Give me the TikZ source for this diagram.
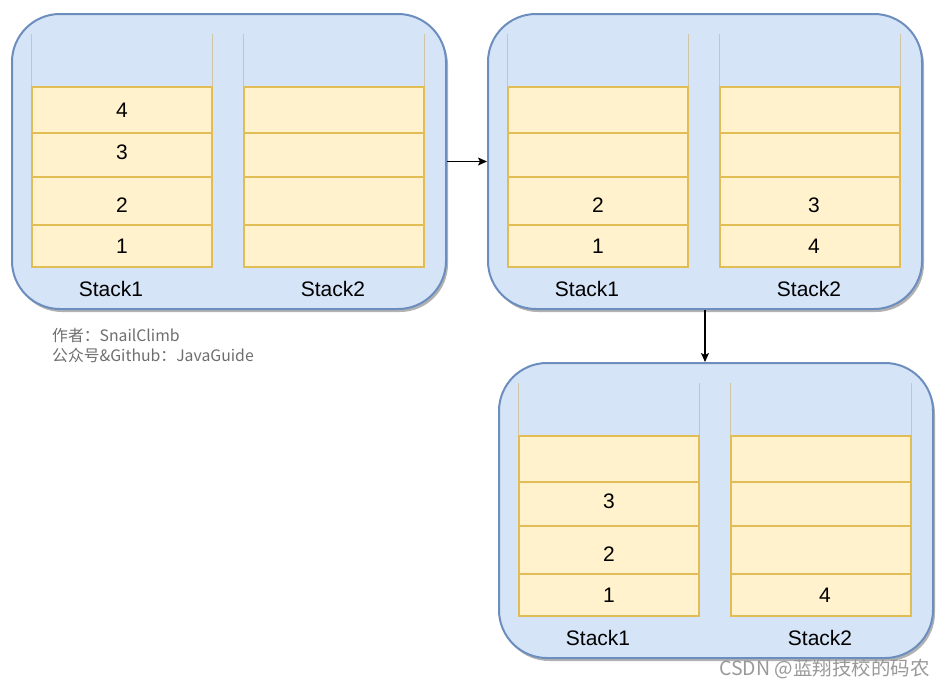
\documentclass[tikz,border=0pt]{standalone}
\usepackage{fontspec}
\setmainfont{Liberation Sans}
\newfontfamily\cjk{Noto Sans CJK SC}
\usepackage{xcolor}
\usetikzlibrary{arrows.meta,shadows}

\definecolor{boxfill}{HTML}{D6E4F7}
\definecolor{boxline}{HTML}{6C8EBF}
\definecolor{cellfill}{HTML}{FFF2CC}
\definecolor{cellline}{HTML}{E2BC55}
\definecolor{notegray}{HTML}{6E6E6E}

\tikzset{
  panel/.style={draw=boxline, fill=boxfill, line width=2pt, rounded corners=48pt,
    minimum width=434pt, minimum height=295pt,
    drop shadow={shadow xshift=2pt, shadow yshift=-3pt, fill=black, opacity=.3}},
  cell/.style={draw=cellline, fill=cellfill, line width=1.3pt, minimum width=180pt, inner sep=0pt},
  rim/.style={draw=cellline!50!gray!60, line width=1pt},
  num/.style={font=\fontsize{21}{24}\selectfont, inner sep=0pt},
  lbl/.style={font=\fontsize{21}{24}\selectfont, inner sep=0pt},
  note/.style={font=\cjk\fontsize{15.8}{18}\selectfont, text=notegray, anchor=west, inner sep=0pt},
  flow/.style={line width=1.2pt, -{Stealth[length=9pt,width=8pt,inset=2pt]}}
}

\begin{document}
\begin{tikzpicture}[x=1pt,y=-1pt]
\useasboundingbox (0,0) rectangle (945,688);
% before the move
\begin{scope}[shift={(11,13)}, name prefix=p1-]
\node[panel] (box) at (218,148.5) {};
\foreach \n/\c in {a/111,b/323}{
  \foreach \r/\y/\h in {4/97/46,3/142/44,2/188/48,1/233/42}
    \node[cell, minimum height=\h] (\n\r) at (\c,\y) {};
  \draw[rim] (\n4.north west) -- ++(0,-52) (\n4.north east) -- ++(0,-52);
}
\node[num] (v4) at (a4) {4};
\node[num] (v3) at ([yshift=3pt]a3) {3};
\node[num] (v2) at ([yshift=-4pt]a2) {2};
\node[num] (v1) at (a1) {1};
\node[lbl] (s1) at (100,276) {Stack1};
\node[lbl] (s2) at (322,276) {Stack2};
\end{scope}
% after popping into stack2
\begin{scope}[shift={(487,13)}, name prefix=p2-]
\node[panel] (box) at (218,148.5) {};
\foreach \n/\c in {a/111,b/323}{
  \foreach \r/\y/\h in {4/97/46,3/142/44,2/188/48,1/233/42}
    \node[cell, minimum height=\h] (\n\r) at (\c,\y) {};
  \draw[rim] (\n4.north west) -- ++(0,-52) (\n4.north east) -- ++(0,-52);
}
\node[num] (v2) at ([yshift=-4pt]a2) {2};
\node[num] (v1) at (a1) {1};
\node[num] (w3) at ([shift={(4pt,-4pt)}]b2) {3};
\node[num] (w4) at ([xshift=4pt]b1) {4};
\node[lbl] (s1) at (100,276) {Stack1};
\node[lbl] (s2) at (322,276) {Stack2};
\end{scope}
% pushing 3 again
\begin{scope}[shift={(498,362)}, name prefix=p3-]
\node[panel] (box) at (218,148.5) {};
\foreach \n/\c in {a/111,b/323}{
  \foreach \r/\y/\h in {4/97/46,3/142/44,2/188/48,1/233/42}
    \node[cell, minimum height=\h] (\n\r) at (\c,\y) {};
  \draw[rim] (\n4.north west) -- ++(0,-52) (\n4.north east) -- ++(0,-52);
}
\node[num] (v3) at ([yshift=3pt]a3) {3};
\node[num] (v2) at ([yshift=-4pt]a2) {2};
\node[num] (v1) at (a1) {1};
\node[num] (w4) at ([xshift=4pt]b1) {4};
\node[lbl] (s1) at (100,276) {Stack1};
\node[lbl] (s2) at (322,276) {Stack2};
\end{scope}
\draw[flow] (p1-box.east) -- (p2-box.west);
\draw[flow] (p2-box.south) -- (p2-box.south |- p3-box.north);
\node[note] (author) at (52,335) {作者：SnailClimb};
\node[note] (account) at (52,355) {公众号\&Github：JavaGuide};
\node[font=\cjk\fontsize{19.5}{22}\selectfont, text=black!40, anchor=east, inner sep=0pt] (csdn) at (930,669) {CSDN @蓝翔技校的码农};
\end{tikzpicture}
\end{document}
